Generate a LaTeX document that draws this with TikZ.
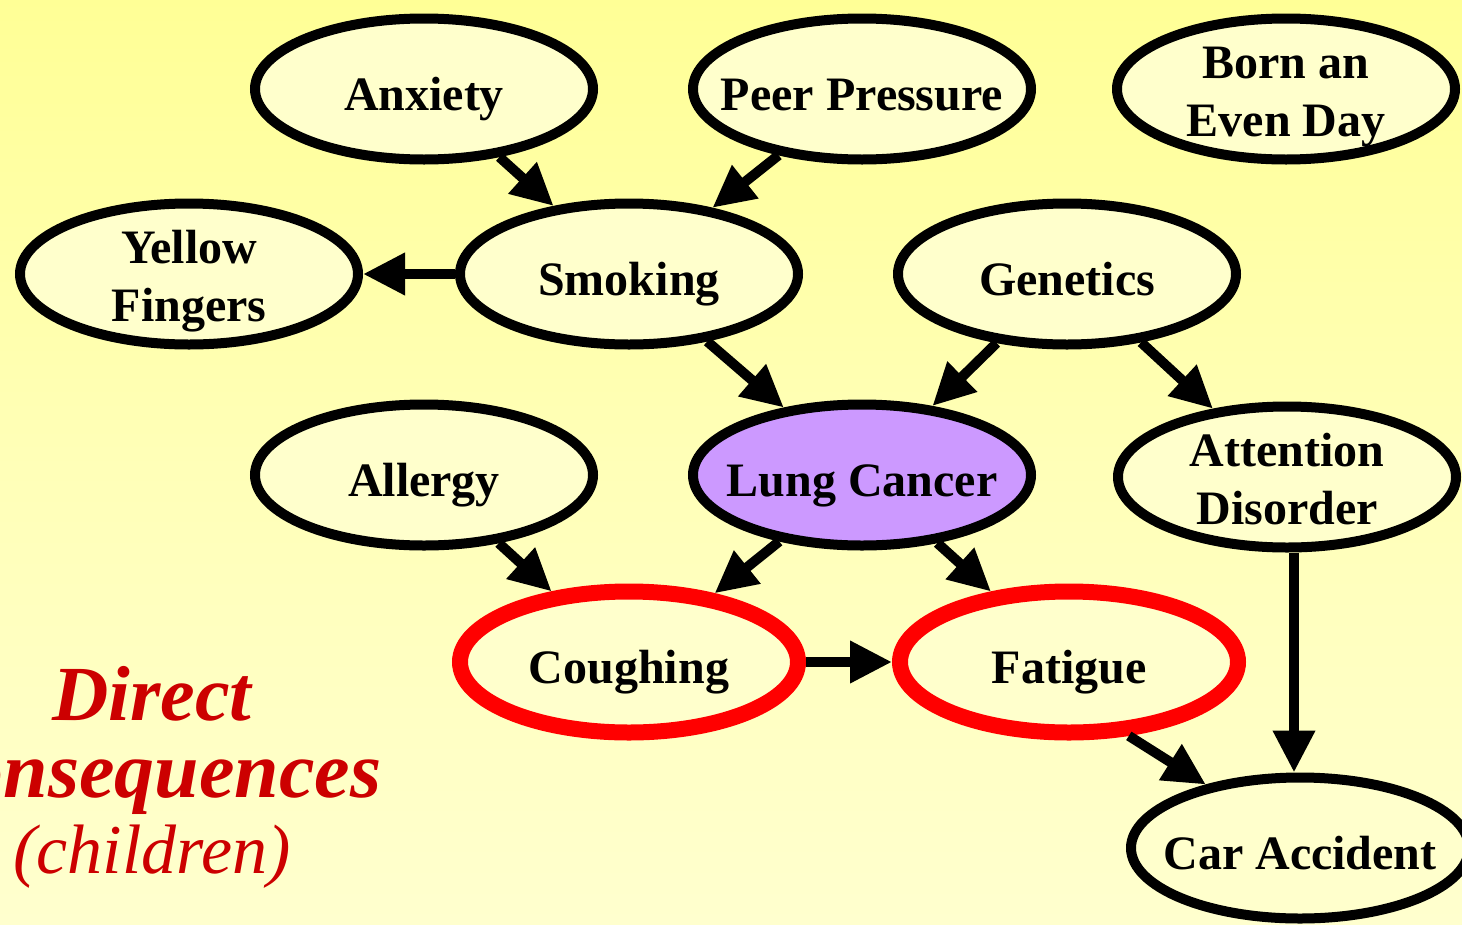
\documentclass[tikz,border=0pt]{standalone}
\usepackage{fontspec}
\setmainfont{Liberation Serif}
\usetikzlibrary{shapes.geometric,arrows.meta}
\definecolor{bgtop}{RGB}{255,255,150}
\definecolor{bgbot}{RGB}{255,255,206}
\definecolor{varfill}{RGB}{255,255,204}
\definecolor{cancerfill}{RGB}{204,153,255}
\definecolor{labelred}{RGB}{204,0,0}
\begin{document}
\begin{tikzpicture}[x=1pt,y=-1pt]
% outline widths
\def\lw{10pt}
\def\rw{16pt}
% node style definition
\tikzstyle{var} = [
	ellipse, draw, line width=\lw, fill=varfill,
	minimum width=338pt, minimum height=141pt,
	inner xsep=-45pt, inner ysep=-30pt, outer sep=5pt, align=center,
	text height=42pt, text depth=0pt,
	font=\fontsize{48}{58}\selectfont\bfseries ];
\tikzstyle{twoline} = [text height=94pt, text depth=0pt];
\tikzstyle{child} = [var, draw=red, line width=\rw, outer sep=8pt];
\tikzstyle{cause} = [-{Triangle[length=42pt,width=40pt]}, line width=\lw];
\tikzstyle{conseq} = [anchor=base, inner sep=0pt, text=labelred,
	font=\fontsize{78}{78}\selectfont\bfseries\itshape];
% page and background
\path[use as bounding box, clip] (0,0) rectangle (1462,924);
\shade[top color=bgtop, bottom color=bgbot, middle color=bgbot!60!bgtop]
	(0,0) rectangle (1462,924);
% variables
\node[var] (anx) at (424,89) {Anxiety};
\node[var] (peer) at (862,89) {Peer Pressure};
\node[var, twoline] (born) at (1286,89) {Born an\\Even Day};
\node[var, twoline] (yel) at (189,274) {Yellow\\Fingers};
\node[var] (smk) at (629,274) {Smoking};
\node[var] (gen) at (1067,274) {Genetics};
\node[var] (alg) at (424,475) {Allergy};
\node[var, fill=cancerfill] (lc) at (862,475) {Lung Cancer};
\node[var, twoline] (att) at (1287,477) {Attention\\Disorder};
\node[child] (cgh) at (629,662) {Coughing};
\node[child] (fat) at (1069,662) {Fatigue};
\node[var] (car) at (1300,848) {Car Accident};
% causal links
\draw[cause] (anx) -- (smk);
\draw[cause] (peer) -- (smk);
\draw[cause] (smk) -- (yel);
\draw[cause] (smk) -- (lc);
\draw[cause] (gen) -- (lc);
\draw[cause] (gen) -- (att);
\draw[cause] (alg) -- (cgh);
\draw[cause] (lc) -- (cgh);
\draw[cause] (lc) -- (fat);
\draw[cause] (cgh) -- (fat);
\draw[cause] ([xshift=7pt]att.south) -- ([xshift=7pt]att.south |- car.north);
\draw[cause] (fat.-51) -- (car.146);
% caption
\node[conseq] (dir) at (152,720) {Direct};
\node[conseq, font=\fontsize{80}{80}\selectfont\bfseries\itshape] (cons) at (146,797) {Consequences};
\node[conseq, font=\fontsize{70}{70}\selectfont\itshape] (chl) at (152,873) {(children)};
\end{tikzpicture}
\end{document}
